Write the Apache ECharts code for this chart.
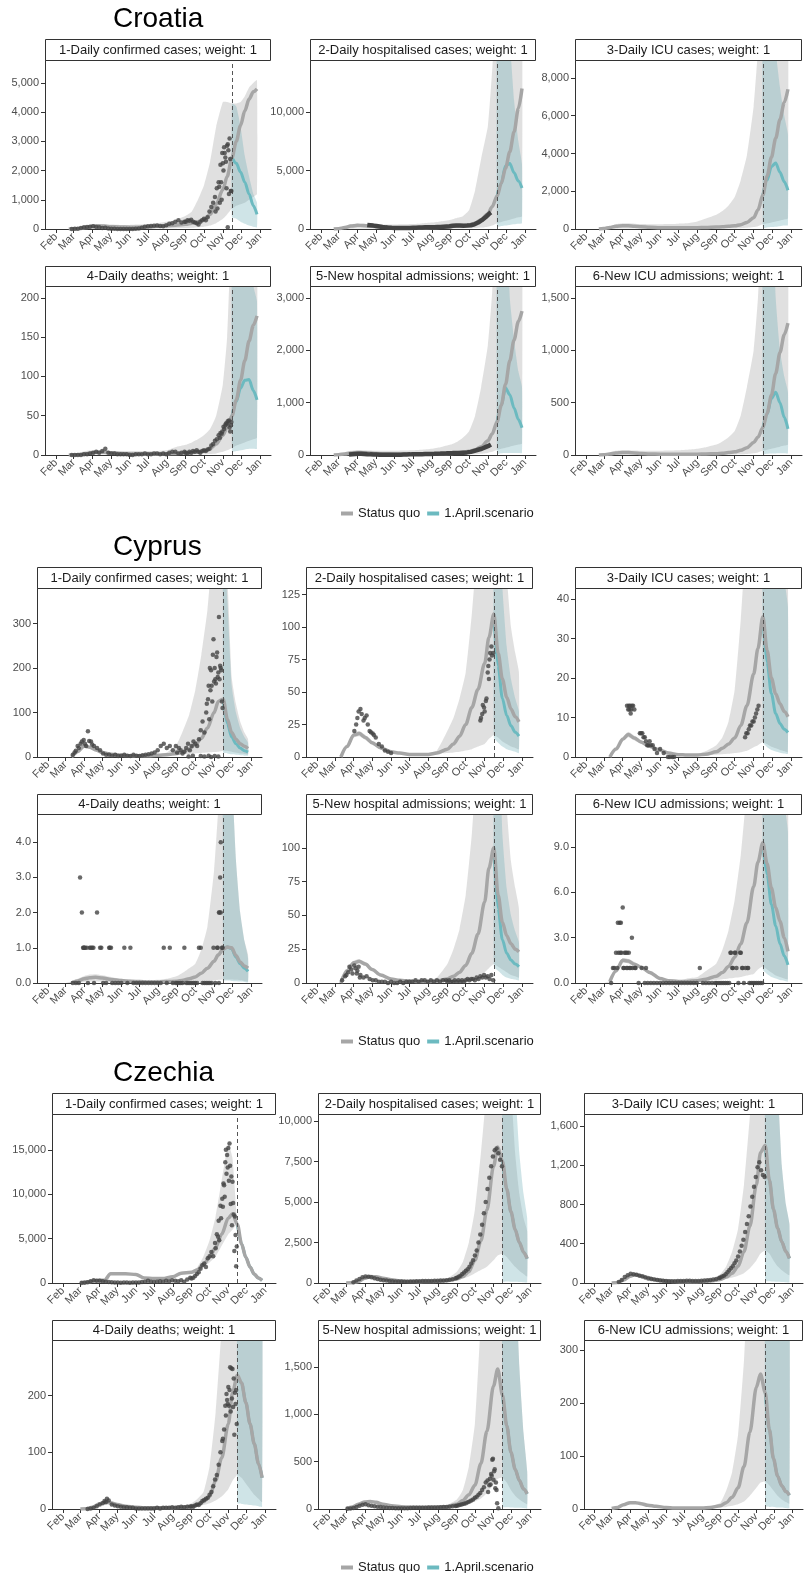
<!DOCTYPE html>
<html><head><meta charset="utf-8">
<script src="https://cdn.jsdelivr.net/npm/echarts@6.0.0/dist/echarts.min.js"></script>
<style>html,body{margin:0;padding:0;background:#fff}#c{width:810px;height:1573px}</style>
</head><body><div id="c"></div>
<script>
// ---------- shared x grids (day of year 2020, 0 = Jan 1) ----------
const modelDays = [52,60,70,80,91,100,110,121,135,152,166,182,196,213,227,244,254,264,274,284,294,305,312,320,327,334,341,348,355,361];
const scenDays = [320,327,334,341,348,355,361];
const obsDays = [57,62,67,72,77,82,87,92,97,102,107,112,117,122,127,132,137,142,147,152,157,162,167,172,177,182,187,192,197,202,207,212,217,222,227,232,237,242,
  244,247,250,253,256,259,262,265,268,271,274,277,280,283,286,289,292,295,298,301,304,307,310,313,316,319];
const monthDays = [31,60,91,121,152,182,213,244,274,305,335,366];
const monthLabels = ['Feb','Mar','Apr','May','Jun','Jul','Aug','Sep','Oct','Nov','Dec','Jan'];
const forecastDay = 320;
const countryNames = ['Croatia','Cyprus','Czechia'];
const panelTitles = ['1-Daily confirmed cases; weight: 1','2-Daily hospitalised cases; weight: 1','3-Daily ICU cases; weight: 1','4-Daily deaths; weight: 1','5-New hospital admissions; weight: 1','6-New ICU admissions; weight: 1'];
const legendNames = ['Status quo','1.April.scenario'];

// ---------- y axes ----------
const hrYMax = [5790,14440,8950,215,3230,1615];
const hrTicks = [[0,1000,2000,3000,4000,5000],[0,5000,10000],[0,2000,4000,6000,8000],[0,50,100,150,200],[0,1000,2000,3000],[0,500,1000,1500]];
const cyYMax = [380,130,42.8,4.8,125,11.2];
const cyTicks = [[0,100,200,300],[0,25,50,75,100,125],[0,10,20,30,40],[0,1,2,3,4],[0,25,50,75,100],[0,3,6,9]];
const czYMax = [19030,10430,1722,298,1785,319];
const czTicks = [[0,5000,10000,15000],[0,2500,5000,7500,10000],[0,400,800,1200,1600],[0,100,200],[0,500,1000,1500],[0,100,200,300]];

// ================= CROATIA =================
const hr1Sq = [0,5,20,50,90,110,100,80,70,60,60,70,90,110,130,160,200,250,330,500,850,1350,1800,2450,3000,3550,4050,4450,4700,4800];
const hr1Lo = [0,0,0,0,10,20,20,15,10,10,10,10,15,20,25,30,40,60,80,120,200,350,500,700,800,850,900,1000,1100,1200];
const hr1Hi = [0,30,80,120,160,170,160,150,140,140,150,170,200,250,300,450,600,1000,1500,2300,3500,4350,4350,4300,4300,4350,4550,4850,5000,5100];
const hr1Sc = [2450,2250,1950,1600,1200,800,500];
const hr1ScLo = [400,350,250,180,120,80,60];
const hr1ScHi = [4300,4200,3500,2500,1800,1200,900];
const hr1Obs = [3,10,10,30,60,70,80,90,70,60,30,40,20,10,5,3,2,1,0,0,2,5,20,40,80,90,100,110,120,100,90,130,180,200,250,300,220,250,
  250,300,280,320,250,220,200,150,250,300,350,300,400,600,750,900,1100,1400,1600,2200,2600,2800,2300,2900,3100,1300];
const hr1ObsX = [[299,1450],[302,1600],[305,2250],[306,2000],[308,2600],[309,2450],[311,1400],[312,2850],[314,2700],[315,1200],[317,2400],[318,1300],[300,900],[296,700],[293,600],[303,1000],[313,60]];

const hr2Sq = [0,30,120,250,320,300,260,200,150,110,90,90,100,120,150,200,250,300,350,500,800,1300,1900,2800,3900,5200,6600,8300,10300,12000];
const hr2Lo = [0,0,10,30,50,50,40,30,20,15,10,10,10,15,20,30,40,50,60,80,120,200,300,500,600,700,800,900,1000,1100];
const hr2Hi = [0,80,250,400,450,450,420,400,380,380,400,420,480,550,650,800,950,1100,1600,3300,6000,8800,13500,20000,20000,20000,20000,20000,20000,20000];
const hr2Sc = [2800,3900,5400,5600,4800,4100,3500];
const hr2ScLo = [200,250,300,350,400,450,500];
const hr2ScHi = [20000,20000,20000,16000,11000,7500,5500];
const hr2Obs = [null,null,null,null,null,null,null,null,null,null,350,320,290,250,210,170,140,115,100,90,80,75,75,80,90,100,110,120,130,140,150,150,160,170,180,200,220,240,
  270,280,290,300,300,290,290,280,280,290,300,320,350,400,450,550,650,750,850,1000,1150,1300,1420,null,null,null];
const hr2ObsX = [];

const hr3Sq = [0,20,80,140,170,170,150,120,90,70,60,60,60,70,80,100,120,140,170,230,350,600,1000,1800,2800,3800,4800,5800,6700,7400];
const hr3Lo = [0,0,0,10,20,20,20,15,10,10,10,10,10,10,10,15,20,25,30,40,60,100,150,250,300,350,400,450,500,550];
const hr3Hi = [0,50,150,250,300,300,280,260,250,250,260,280,300,400,550,750,950,1250,1700,2600,3900,6500,9500,14000,14000,14000,14000,14000,14000,14000];
const hr3Sc = [1800,2600,3300,3500,3000,2500,2050];
const hr3ScLo = [60,80,100,120,150,180,200];
const hr3ScHi = [14000,14000,14000,9500,7500,6000,5000];
const hr3Obs = [];
const hr3ObsX = [];

const hr4Sq = [0,0,0.5,1.5,3,3.5,3.5,3,2,1.5,1,1,1,1.5,2,2.5,3,4,5,8,14,25,35,50,70,95,120,145,165,177];
const hr4Lo = [0,0,0,0,0.5,0.5,0.5,0.5,0.3,0.2,0.2,0.2,0.2,0.2,0.3,0.4,0.5,0.6,0.8,1.2,2,4,6,9,12,14,16,18,20,22];
const hr4Hi = [0,1,3,5,6,6,6,5,5,5,5,5,5,6,10,13,16,20,25,33,50,90,150,300,300,300,300,300,300,300];
const hr4Sc = [50,68,85,95,96,82,70];
const hr4ScLo = [4,5,6,7,8,8,8];
const hr4ScHi = [300,300,300,300,260,215,195];
const hr4Obs = [0,0,0,0,1,1,2,3,4,3,5,8,3,2,2,1,1,1,1,0,0,1,1,1,2,1,1,2,2,1,2,1,3,4,4,2,3,4,
  3,2,4,3,5,4,6,4,3,5,6,5,7,8,12,14,18,20,25,28,30,33,40,43,35,42];
const hr4ObsX = [[300,22],[303,27],[306,36],[309,38],[312,40],[315,44],[317,30],[318,38]];

const hr5Sq = [0,5,20,40,50,45,40,30,20,15,12,12,15,18,22,30,40,55,70,100,160,270,400,630,950,1350,1800,2200,2550,2750];
const hr5Lo = [0,0,2,5,8,8,7,5,4,3,3,3,3,3,4,5,7,9,12,16,25,40,60,100,120,140,160,180,200,220];
const hr5Hi = [0,15,50,80,90,90,85,80,80,80,85,90,100,120,150,200,250,330,450,750,1300,2100,3100,5000,5000,5000,5000,5000,5000,5000];
const hr5Sc = [630,950,1280,1150,900,680,520];
const hr5ScLo = [30,35,40,40,40,40,40];
const hr5ScHi = [5000,5000,5000,3000,2200,1600,1300];
const hr5Obs = [null,null,null,null,10,15,20,25,25,20,15,12,10,8,6,5,4,4,4,4,5,6,8,10,12,15,15,15,16,17,18,20,22,25,27,30,32,35,
  35,36,38,40,40,40,42,45,48,50,55,60,70,80,90,100,110,120,135,150,165,180,200,null,null,null];
const hr5ObsX = [];

const hr6Sq = [0,2,10,20,25,23,20,15,10,8,6,6,7,8,10,13,17,23,30,45,70,120,170,260,400,570,780,980,1150,1260];
const hr6Lo = [0,0,1,2,3,3,3,2,2,1,1,1,1,1,2,2,3,4,5,7,10,17,25,40,50,60,70,80,90,100];
const hr6Hi = [0,8,25,40,45,45,42,40,40,40,42,45,50,60,75,100,130,170,230,380,650,1000,1500,2500,2500,2500,2500,2500,2500,2500];
const hr6Sc = [260,390,540,600,500,360,250];
const hr6ScLo = [10,12,14,15,16,16,16];
const hr6ScHi = [2500,2500,2500,1500,1000,750,600];
const hr6Obs = [];
const hr6ObsX = [];

// ================= CYPRUS =================
const cy1Sq = [null,null,0,12,25,22,16,10,6,4,3,3,3,4,5,8,12,18,28,42,65,100,125,130,85,55,40,30,24,19];
const cy1Lo = [0,0,0,10,22,19,14,8.5,5,3.5,2.5,2.5,2.5,3.5,4,5,6,7,8,9,10,11,12,14,14,12,10,8,7,6];
const cy1Hi = [0,0,0,14,28,25,18,11.5,7,4.5,3.5,3.5,3.5,5,10,30,60,95,150,230,330,500,500,500,400,180,120,80,55,40];
const cy1Sc = [130,75,45,30,20,14,11];
const cy1ScLo = [10,8,6,5,4,3,3];
const cy1ScHi = [500,350,160,100,65,45,32];
const cy1Obs = [null,null,null,5,14,20,35,30,58,35,25,20,15,8,5,5,3,5,2,3,5,3,2,5,3,2,4,5,6,8,10,15,25,30,20,25,15,25,
  10,20,15,8,12,20,30,15,25,35,30,25,40,60,80,55,100,130,200,160,265,175,235,315,200,110];
const cy1ObsX = [[75,10],[80,25],[85,30],[90,38],[94,25],[99,36],[104,28],[293,120],[296,160],[297,85],[299,150],[300,195],[302,125],[303,230],[305,170],[306,200],[308,165],[309,225],[311,180],[312,190],[314,175],[315,205],[317,195],[318,125],[300,0],[306,2],[312,1],[296,3],[289,1],[283,2],[263,1],[270,3]];

const cy2Sq = [null,null,0,8,17,18,15,11,7,4,3,2,2,2,3,6,10,16,25,38,52,72,92,110,80,60,46,37,31,27];
const cy2Lo = [0,0,0,7,15,16,13,9.5,6,3.4,2.5,1.7,1.7,1.7,2.5,3,3.5,4,5,6,8,10,14,17,15,12,10,8,7,6];
const cy2Hi = [0,0,0,9,19,20,17,12.5,8,4.6,3.5,2.3,2.5,3,5,20,30,45,65,110,170,250,250,250,250,200,140,100,80,65];
const cy2Sc = [110,70,45,32,24,19,16];
const cy2ScLo = [15,11,8,6,5,4,3];
const cy2ScHi = [250,200,130,85,60,45,35];
const cy2Obs = [null,null,null,null,null,null,null,20,30,37,28,32,20,18,15,10,8,5,4,3,null,null,null,null,null,null,null,null,null,null,null,null,null,null,null,null,null,null,
  null,null,null,null,null,null,null,null,null,null,null,null,null,null,null,null,null,null,28,33,38,43,65,75,85,80];
const cy2ObsX = [[95,25],[99,35],[104,33],[109,30],[114,25],[119,19],[124,17],[299,30],[302,40],[305,35],[308,45],[311,70],[312,60],[314,80],[317,78]];

const cy3Sq = [null,null,0,2,4.5,5.7,4.8,3.8,2.7,1.7,1,0.6,0.5,0.5,0.7,1.3,2.2,3.3,4.8,8,13,21,27.5,35.5,27,20,16,13.5,11.5,10.2];
const cy3Lo = [0,0,0,1.7,4,5,4.2,3.3,2.3,1.4,0.8,0.5,0.4,0.4,0.5,0.6,0.7,0.8,1,1.2,1.6,2.5,3,3.8,3.2,2.6,2.2,1.8,1.5,1.2];
const cy3Hi = [0,0,0,2.3,5,6.4,5.4,4.3,3.1,2,1.2,0.7,0.6,0.8,1.5,3,5,9,17,35,60,90,90,90,90,90,80,65,55,45];
const cy3Sc = [35.5,24,16,11,8.5,7,6.2];
const cy3ScLo = [3.8,2.5,1.8,1.4,1.1,0.9,0.8];
const cy3ScHi = [90,90,90,70,55,45,38];
const cy3Obs = [];
const cy3ObsX = [[98,13],[100,12],[101,13],[102,12],[103,13],[104,11],[105,12],[106,13],[108,13],[110,12],[119,6],[121,6],[123,6],[125,5],[127,5],[129,4],[131,3],[133,3],[135,4],[137,3],[140,3],[143,2],[147,1],[152,2],[158,1],[165,0],[168,0],[172,0],[175,0],[291,5],[293,6],[295,6],[297,7],[299,8],[301,8],[303,9],[305,9],[307,10],[309,11],[311,12],[313,13]];

const cy4Sq = [null,null,0,0.06,0.12,0.15,0.16,0.14,0.1,0.07,0.05,0.04,0.03,0.03,0.04,0.05,0.08,0.12,0.17,0.28,0.42,0.62,0.8,0.96,1.02,1.0,0.78,0.6,0.48,0.42];
const cy4Lo = [0,0,0,0.01,0.03,0.04,0.04,0.03,0.02,0.01,0.01,0.01,0.01,0.01,0.01,0.01,0.02,0.02,0.03,0.04,0.05,0.07,0.09,0.1,0.1,0.1,0.09,0.08,0.06,0.05];
const cy4Hi = [0,0,0.05,0.12,0.2,0.24,0.25,0.22,0.17,0.12,0.1,0.08,0.08,0.09,0.12,0.2,0.3,0.42,0.55,0.95,1.6,3.2,5,8,8,6,3.5,2,1.2,0.8];
const cy4Sc = [0.96,1.02,0.97,0.74,0.55,0.42,0.33];
const cy4ScLo = [0.08,0.07,0.06,0.05,0.04,0.03,0.02];
const cy4ScHi = [8,8,6,3.5,2,1.2,0.7];
const cy4Obs = [null,null,null,0,0,0,2,1,0,1,0,2,1,0,0,1,0,0,0,0,1,0,1,0,0,0,0,0,0,0,0,0,0,1,0,1,0,0,
  0,0,0,0,1,0,0,0,0,0,0,0,1,1,0,0,0,0,0,0,1,0,1,0,2,1];
const cy4ObsX = [[84,3],[89,1],[90,1],[91,1],[95,1],[100,1],[104,1],[106,1],[119,1],[133,1],[135,1],[311,1],[313,2],[314,2],[315,3],[316,4],[318,1]];

const cy5Sq = [null,null,0,9,15,16,14,10,6,3,2,1.5,1.2,1.2,1.5,3,5,8,13,22,36,60,85,100,65,45,35,29,25,23];
const cy5Lo = [0,0,0,8,13.5,14.5,12.5,9,5.3,2.6,1.7,1.3,1,1,1.2,1.5,2,2.5,3,4,5,8,11,14,12,10,8,6,5,4];
const cy5Hi = [0,0,0,10,16.5,17.5,15.5,11,6.7,3.4,2.3,1.8,1.5,2,4,14,25,40,65,110,180,250,250,250,250,200,130,90,70,55];
const cy5Sc = [100,55,32,22,17,14,12];
const cy5ScLo = [12,9,6,4,3,2.5,2];
const cy5ScHi = [250,200,110,70,50,38,30];
const cy5Obs = [null,null,null,2,5,8,10,13,9,6,4,5,3,2,2,1,1,1,0,1,0,0,1,0,1,1,1,2,1,2,2,1,2,1,2,1,2,2,
  1,2,1,1,2,1,2,1,2,1,2,3,2,3,3,2,4,3,5,4,6,4,5,3,6,2];
const cy5ObsX = [[79,6],[84,12],[89,7],[94,11],[99,12],[96,7],[101,4]];

const cy6Sq = [null,null,0.1,0.8,1.5,1.45,1.25,1.05,0.7,0.3,0.15,0.1,0.1,0.15,0.25,0.45,0.7,1.1,1.7,2.6,4,6.4,8,9.3,7.9,6.3,5,4.1,3,2.1];
const cy6Lo = [0,0,0.05,0.7,1.35,1.3,1.1,0.95,0.6,0.26,0.12,0.08,0.08,0.1,0.15,0.2,0.25,0.3,0.35,0.4,0.5,0.6,0.9,1.1,0.9,0.7,0.5,0.4,0.3,0.25];
const cy6Hi = [0,0,0.15,0.9,1.65,1.6,1.4,1.15,0.8,0.35,0.18,0.13,0.3,0.4,0.8,1.3,2.2,3.5,5.5,8.5,13,20,20,20,20,20,20,18,16,14];
const cy6Sc = [9.3,7.2,5.2,3.8,2.6,1.8,1.2];
const cy6ScLo = [0.9,0.6,0.4,0.3,0.2,0.15,0.1];
const cy6ScHi = [20,20,20,20,16,12,10];
const cy6Obs = [null,null,null,0,1,1,2,1,1,1,1,1,0,1,0,0,0,0,0,0,0,0,0,0,0,0,0,0,0,0,0,0,1,0,0,0,0,0,
  0,0,0,0,0,0,0,0,2,1,2,1,0,2,1,0,1,1,0,0,0,0,0,0,0,0];
const cy6ObsX = [[75,1],[80,2],[83,4],[84,2],[86,4],[88,4],[89,2],[91,5],[93,1],[94,2],[96,2],[98,2],[99,1],[101,2],[104,1],[106,3],[111,1],[129,1],[267,2],[270,1],[275,2],[284,2],[287,1],[296,1]];

// ================= CZECHIA =================
const cz1Sq = [null,50,100,200,300,300,1050,1050,1050,950,550,500,500,700,1100,1200,1500,2100,2900,4000,5500,7300,7800,6600,4400,2900,1800,1000,550,300];
const cz1Lo = [0,50,100,200,300,300,1050,1050,1050,950,550,500,500,700,1100,1200,1400,1800,2300,3000,4200,5500,6000,6600,4400,2900,1800,1000,550,300];
const cz1Hi = [0,50,100,200,300,300,1050,1050,1050,950,550,500,500,700,1100,1250,1800,3000,4800,7500,11500,15700,14000,6600,4400,2900,1800,1000,550,300];
const cz1Sc = [6600,4400,2900,1800,1000,550,300];
const cz1ScLo = [6600,4400,2900,1800,1000,550,300];
const cz1ScHi = [6600,4400,2900,1800,1000,550,300];
const cz1Obs = [null,5,20,80,200,300,250,250,200,150,100,80,60,50,40,50,60,40,50,60,50,100,150,260,150,120,130,200,150,250,200,300,250,200,300,150,400,600,
  500,600,800,1000,1200,1600,2000,2200,1800,2800,3000,3500,3000,4500,5500,7000,8700,9500,11000,15000,13000,15700,12000,9000,7500,4100];
const cz1ObsX = [[284,3900],[288,5200],[290,4800],[293,7300],[296,8600],[297,11200],[299,9700],[300,13600],[302,12300],[303,14400],[305,15200],[306,11500],[308,13200],[309,8900],[311,6500],[312,11400],[314,7700],[315,3600],[317,5400],[318,1900]];

const cz2Sq = [null,0,20,100,300,400,380,300,200,120,90,80,90,110,150,250,400,700,1400,2600,4500,7200,8400,7500,5800,4400,3300,2500,1900,1500];
const cz2Lo = [0,0,17,85,255,340,320,255,170,100,77,68,77,95,125,180,260,400,600,800,1000,1400,1700,1800,1600,1300,1000,750,550,400];
const cz2Hi = [0,0,23,115,345,460,440,345,230,140,103,92,103,130,250,700,1300,2500,4500,8000,12000,15000,15000,15000,15000,12000,8000,5500,4000,3200];
const cz2Sc = [7500,5800,4400,3300,2500,1900,1500];
const cz2ScLo = [100,90,80,70,60,50,40];
const cz2ScHi = [15000,15000,15000,12000,8000,5500,4000];
const cz2Obs = [null,null,null,50,150,250,350,400,380,350,300,250,200,170,150,130,110,100,90,90,80,80,90,100,110,110,120,130,130,130,140,140,150,160,170,200,230,300,
  320,380,450,550,650,750,850,1000,1200,1400,1700,2000,2500,3000,3600,4300,5000,5800,6500,7200,7800,8200,8300,8000,7600,7200];
const cz2ObsX = [];

const cz3Sq = [null,0,5,30,70,85,75,55,35,20,15,12,12,15,20,35,60,100,170,320,580,1000,1330,1400,1050,750,560,420,320,250];
const cz3Lo = [0,0,4,26,60,73,65,47,30,17,13,10,10,13,17,25,40,55,75,100,150,230,300,330,300,230,170,130,100,80];
const cz3Hi = [0,0,6,34,80,97,85,63,40,23,17,14,14,18,30,90,170,320,550,1000,1700,2500,2500,2500,2500,2500,2000,1200,800,600];
const cz3Sc = [1400,1050,750,560,420,320,250];
const cz3ScLo = [20,18,15,12,10,8,6];
const cz3ScHi = [2500,2500,2500,2000,1200,800,600];
const cz3Obs = [null,null,null,10,30,60,80,95,90,85,75,65,55,45,40,35,30,25,22,20,18,17,18,20,20,20,22,22,20,20,20,22,25,28,30,35,40,50,
  55,65,75,90,110,130,150,170,200,230,270,320,380,440,520,600,680,780,880,980,1080,1180,1230,1150,1100,1080];
const cz3ObsX = [];

const cz4Sq = [null,0,0.5,3,9,12,11,8,5,3,2,2,2,2,3,5,8,13,22,50,90,150,205,236,222,188,150,115,80,55];
const cz4Lo = [0,0,0.4,2.5,7.5,10,9.5,7,4.3,2.6,1.7,1.7,1.7,1.7,2.5,3.5,5,7,10,15,22,35,50,60,55,45,35,25,18,12];
const cz4Hi = [0,0,0.6,3.5,10.5,14,12.5,9,5.7,3.4,2.3,2.3,2.4,3,5,10,18,30,75,170,320,500,500,500,500,500,500,500,500,500];
const cz4Sc = [236,222,188,150,115,80,55];
const cz4ScLo = [10,9,8,7,6,5,4];
const cz4ScHi = [500,500,500,500,500,500,500];
const cz4Obs = [null,null,null,0,1,2,5,8,10,12,15,8,6,5,4,3,3,2,2,1,1,1,1,1,1,1,2,1,2,2,2,3,2,3,4,3,4,4,
  5,4,6,8,7,10,14,16,18,20,25,30,40,52,60,78,100,120,140,165,185,210,248,180,205,150];
const cz4ObsX = [[104,18],[100,14],[296,124],[300,182],[302,203],[303,192],[305,215],[306,182],[308,250],[309,172],[311,195],[312,247],[314,230],[315,131],[317,185],[318,210]];

const cz5Sq = [null,5,20,50,75,80,70,50,35,25,20,18,18,20,25,50,90,150,250,480,820,1300,1480,1200,880,600,420,300,210,160];
const cz5Lo = [0,4,17,42,64,68,60,42,30,21,17,15,15,17,21,30,45,60,80,110,170,260,320,330,280,200,140,100,70,50];
const cz5Hi = [0,6,23,58,86,92,80,58,40,29,23,21,21,24,40,100,200,450,900,2000,3000,3000,3000,3000,3000,3000,2500,1500,800,400];
const cz5Sc = [1200,880,600,420,300,210,160];
const cz5ScLo = [20,18,16,14,12,10,8];
const cz5ScHi = [3000,3000,3000,2500,1500,800,400];
const cz5Obs = [null,2,5,10,20,35,45,50,40,35,30,25,20,15,12,10,10,9,8,8,8,9,10,12,12,13,14,14,15,15,16,17,18,20,22,25,28,32,
  35,40,45,50,55,60,70,80,90,100,120,130,150,170,200,230,280,300,250,370,530,420,200,7,null,null];
const cz5ObsX = [[296,180],[299,320],[300,260],[302,350],[303,520],[305,310],[306,400],[308,220],[309,280],[311,60]];

const cz6Sq = [null,1,3,8,12,12,10,7,5,3,2,2,2,2,3,6,12,22,40,80,145,230,255,220,150,95,62,44,33,26];
const cz6Lo = [0,0.8,2.5,7,10,10,8.5,6,4.2,2.5,1.7,1.7,1.7,1.7,2.5,3,4,6,9,14,25,40,50,52,45,35,25,18,13,10];
const cz6Hi = [0,1.2,3.5,9,14,14,11.5,8,6,3.5,2.4,2.4,2.6,3.5,5,12,35,70,140,280,500,500,500,500,500,500,500,500,500,500];
const cz6Sc = [220,150,95,62,44,33,26];
const cz6ScLo = [5,4,4,3,3,2,2];
const cz6ScHi = [500,500,500,500,500,500,500];
const cz6Obs = [];
const cz6ObsX = [];

// ---------- assemble ----------
function P(sq,lo,hi,sc,scLo,scHi,obs,obsX,mode){return {sq,lo,hi,sc,scLo,scHi,obs,obsX,mode};}
const countries = [
  {name:countryNames[0], yMax:hrYMax, ticks:hrTicks, dec:[0,0,0,0,0,0], panels:[
    P(hr1Sq,hr1Lo,hr1Hi,hr1Sc,hr1ScLo,hr1ScHi,hr1Obs,hr1ObsX,'dots'),
    P(hr2Sq,hr2Lo,hr2Hi,hr2Sc,hr2ScLo,hr2ScHi,hr2Obs,hr2ObsX,'line'),
    P(hr3Sq,hr3Lo,hr3Hi,hr3Sc,hr3ScLo,hr3ScHi,hr3Obs,hr3ObsX,'dots'),
    P(hr4Sq,hr4Lo,hr4Hi,hr4Sc,hr4ScLo,hr4ScHi,hr4Obs,hr4ObsX,'dots'),
    P(hr5Sq,hr5Lo,hr5Hi,hr5Sc,hr5ScLo,hr5ScHi,hr5Obs,hr5ObsX,'line'),
    P(hr6Sq,hr6Lo,hr6Hi,hr6Sc,hr6ScLo,hr6ScHi,hr6Obs,hr6ObsX,'dots')]},
  {name:countryNames[1], yMax:cyYMax, ticks:cyTicks, dec:[0,0,0,1,0,1], panels:[
    P(cy1Sq,cy1Lo,cy1Hi,cy1Sc,cy1ScLo,cy1ScHi,cy1Obs,cy1ObsX,'dots'),
    P(cy2Sq,cy2Lo,cy2Hi,cy2Sc,cy2ScLo,cy2ScHi,cy2Obs,cy2ObsX,'dots'),
    P(cy3Sq,cy3Lo,cy3Hi,cy3Sc,cy3ScLo,cy3ScHi,cy3Obs,cy3ObsX,'dots'),
    P(cy4Sq,cy4Lo,cy4Hi,cy4Sc,cy4ScLo,cy4ScHi,cy4Obs,cy4ObsX,'dots'),
    P(cy5Sq,cy5Lo,cy5Hi,cy5Sc,cy5ScLo,cy5ScHi,cy5Obs,cy5ObsX,'dots'),
    P(cy6Sq,cy6Lo,cy6Hi,cy6Sc,cy6ScLo,cy6ScHi,cy6Obs,cy6ObsX,'dots')]},
  {name:countryNames[2], yMax:czYMax, ticks:czTicks, dec:[0,0,0,0,0,0], panels:[
    P(cz1Sq,cz1Lo,cz1Hi,cz1Sc,cz1ScLo,cz1ScHi,cz1Obs,cz1ObsX,'dots'),
    P(cz2Sq,cz2Lo,cz2Hi,cz2Sc,cz2ScLo,cz2ScHi,cz2Obs,cz2ObsX,'dots'),
    P(cz3Sq,cz3Lo,cz3Hi,cz3Sc,cz3ScLo,cz3ScHi,cz3Obs,cz3ObsX,'dots'),
    P(cz4Sq,cz4Lo,cz4Hi,cz4Sc,cz4ScLo,cz4ScHi,cz4Obs,cz4ObsX,'dots'),
    P(cz5Sq,cz5Lo,cz5Hi,cz5Sc,cz5ScLo,cz5ScHi,cz5Obs,cz5ObsX,'dots'),
    P(cz6Sq,cz6Lo,cz6Hi,cz6Sc,cz6ScLo,cz6ScHi,cz6Obs,cz6ObsX,'dots')]}
];

// layout (pixels)
const layout = [
  {off:0,    cols:[[45,271],[310,536],[575,802]]},
  {off:528,  cols:[[37,262],[306,533],[575,802]]},
  {off:1054, cols:[[52,276],[318,541],[584,803]]}
];
const stripTop = [39,266], plotTop = [60,286], plotBottom = [229,455];

const FONT = '"Liberation Sans", Arial, Helvetica, sans-serif';
const GREY_BAND = 'rgba(198,198,198,0.55)';
const TEAL_BAND = 'rgba(105,172,180,0.32)';
const GREY_LINE = '#a6a6a6';
const TEAL_LINE = '#6cbac0';
const DOT = '#434343';

function zip(days, vals){ const o=[]; for(let i=0;i<days.length;i++){ if(vals[i]!==null && vals[i]!==undefined) o.push([days[i], vals[i]]); } return o; }
function fmt(v, dec){ return dec ? v.toFixed(1) : v.toLocaleString('en-US'); }

// ribbon drawn as one polygon through the axis scales, clipped to the plot
function bandSeries(k, days, lo, hi, color, z){
  const upper = days.map((d,i)=>[d,hi[i]]);
  const lower = days.map((d,i)=>[d,lo[i]]).reverse();
  return {type:'custom', xAxisIndex:k, yAxisIndex:k, z:z, silent:true, animation:false,
    data:[[days[0], lo[0]]],
    renderItem:function(params, api){
      const pts = upper.map(pt=>api.coord(pt)).concat(lower.map(pt=>api.coord(pt)));
      const cs = params.coordSys;
      return {type:'polygon', shape:{points:pts, smooth:0.15}, style:{fill:color, stroke:null},
        clipPath:{type:'rect', shape:{x:cs.x, y:cs.y, width:cs.width, height:cs.height}}};
    }};
}

const grids=[], xAxes=[], yAxes=[], series=[], graphics=[], legends=[];
let k=0;
countries.forEach((c, ci)=>{
  const L = layout[ci];
  graphics.push({type:'text', x:113, y:19+L.off, silent:true,
    style:{text:c.name, font:'28px '+FONT, fill:'#000', textAlign:'left', textVerticalAlign:'middle', align:'left', verticalAlign:'middle'}});
  c.panels.forEach((p, pi)=>{
    const r = Math.floor(pi/3), col = pi%3;
    const x0 = L.cols[col][0], x1 = L.cols[col][1];
    const st = stripTop[r]+L.off, pt = plotTop[r]+L.off, pb = plotBottom[r]+L.off;
    grids.push({left:x0, top:pt, width:x1-x0, height:pb-pt});
    graphics.push({type:'rect', silent:true, z:50, shape:{x:x0+0.5, y:st+0.5, width:x1-x0-1, height:pt-st}, style:{fill:'#fff', stroke:'#333', lineWidth:1}});
    graphics.push({type:'text', silent:true, z:51, x:(x0+x1)/2, y:(st+pt)/2+0.5,
      style:{text:panelTitles[pi], font:'13px '+FONT, fill:'#1a1a1a', textAlign:'center', textVerticalAlign:'middle', align:'center', verticalAlign:'middle'}});
    xAxes.push({type:'value', gridIndex:k, min:13, max:384,
      axisLine:{show:true, onZero:false, lineStyle:{color:'#333', width:1}},
      axisTick:{show:true, length:4, customValues:monthDays, lineStyle:{color:'#333'}},
      axisLabel:{customValues:monthDays, rotate:45, margin:6, fontSize:11, color:'#4d4d4d', fontFamily:FONT,
        formatter:(v)=>monthLabels[monthDays.indexOf(v)] || ''},
      splitLine:{show:false}});
    const dec = c.dec[pi];
    yAxes.push({type:'value', gridIndex:k, min:0, max:c.yMax[pi],
      axisLine:{show:true, onZero:false, lineStyle:{color:'#333', width:1}},
      axisTick:{show:true, length:4, customValues:c.ticks[pi], lineStyle:{color:'#333'}},
      axisLabel:{customValues:c.ticks[pi], margin:6, fontSize:11, color:'#4d4d4d', fontFamily:FONT, formatter:(v)=>fmt(v,dec)},
      splitLine:{show:false}});
    const base = {xAxisIndex:k, yAxisIndex:k, symbol:'none', silent:true, animation:false};
    series.push(bandSeries(k, modelDays, p.lo, p.hi, GREY_BAND, 1));
    series.push(bandSeries(k, scenDays, p.scLo, p.scHi, TEAL_BAND, 2));
    // scenario line + forecast marker
    series.push(Object.assign({}, base, {type:'line', name:legendNames[1], color:TEAL_LINE, z:3, smooth:0.3, smoothMonotone:'x',
      data:zip(scenDays, p.sc), lineStyle:{color:TEAL_LINE, width:3},
      markLine:{silent:true, symbol:['none','none'], label:{show:false}, animation:false,
        lineStyle:{color:'#555', width:1, type:[4,3]}, data:[{xAxis:forecastDay}]}}));
    // status quo line
    series.push(Object.assign({}, base, {type:'line', name:legendNames[0], color:GREY_LINE, z:4, smooth:0.3, smoothMonotone:'x',
      data:zip(modelDays, p.sq), lineStyle:{color:GREY_LINE, width:3.5}}));
    // observations
    const obsPts = p.obs.length ? zip(obsDays, p.obs) : [];
    if(p.mode==='line'){
      series.push(Object.assign({}, base, {type:'line', z:5, data:obsPts, lineStyle:{color:DOT, width:4.5}}));
      if(p.obsX.length) series.push(Object.assign({}, base, {type:'scatter', z:5, symbol:'circle', symbolSize:4.5, data:p.obsX, itemStyle:{color:DOT}}));
    } else {
      const pts = obsPts.concat(p.obsX);
      if(pts.length) series.push(Object.assign({}, base, {type:'scatter', z:5, symbol:'circle', symbolSize:4.5, data:pts, itemStyle:{color:DOT}}));
    }
    k++;
  });
  legends.push({top:502+L.off, left:336, orient:'horizontal', itemWidth:12, itemHeight:4, itemGap:7, icon:'rect',
    selectedMode:false, data:legendNames.map(n=>({name:n})),
    textStyle:{fontSize:13, color:'#1a1a1a', fontFamily:FONT}});
});

const chart = echarts.init(document.getElementById('c'), null, {renderer:'canvas', width:810, height:1573});
chart.setOption({animation:false, backgroundColor:'#fff', grid:grids, xAxis:xAxes, yAxis:yAxes, series:series, graphic:{elements:graphics}, legend:legends});
</script></body></html>
